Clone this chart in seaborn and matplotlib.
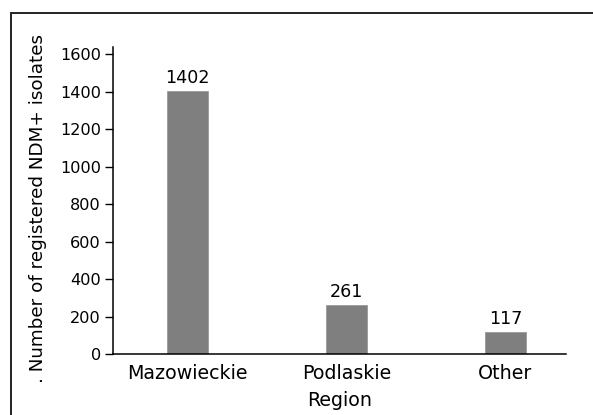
import matplotlib
matplotlib.use("Agg")
import matplotlib.pyplot as plt
import seaborn as sns
import pandas as pd
from matplotlib.lines import Line2D

regions = ["Mazowieckie", "Podlaskie", "Other"]
counts = [1402, 261, 117]
yticks = [0, 200, 400, 600, 800, 1000, 1200, 1400, 1600]

sns.set_style("ticks")
plt.rcParams['font.family'] = ['DejaVu Sans']
plt.rcParams['text.color'] = 'black'
plt.rcParams['axes.labelcolor'] = 'black'
plt.rcParams['xtick.color'] = 'black'
plt.rcParams['ytick.color'] = 'black'

df = pd.DataFrame({"Region": regions, "Count": counts})

fig = plt.figure(figsize=(5.93, 4.15), dpi=100)
ax = fig.add_axes([0.1906, 0.147, 0.9545 - 0.1906, 0.886 - 0.147])

sns.barplot(data=df, x="Region", y="Count", color="#7f7f7f", saturation=1,
            width=0.26, ax=ax, edgecolor="#9a9a9a", linewidth=0.6)

ax.set_xlim(-0.469, 2.381)
ax.set_ylim(0, 1636)
ax.set_yticks(yticks)
ax.set_yticklabels([str(t) for t in yticks], fontsize=11.6)
ax.tick_params(axis='x', length=0, labelsize=13.7, pad=7)
ax.tick_params(axis='y', length=5.8, width=1, color='black', pad=3)
for s in ["top", "right"]:
    ax.spines[s].set_visible(False)
for s in ["left", "bottom"]:
    ax.spines[s].set_color("black")
    ax.spines[s].set_linewidth(1.1)

for i, c in enumerate(counts):
    ax.annotate(str(c), (i, c), xytext=(0, 2.7), textcoords="offset points",
                ha="center", va="bottom", fontsize=12.6, color="black")

ax.set_xlabel("Region", fontsize=13.7, labelpad=6)
ax.set_ylabel(". Number of registered NDM+ isolates", fontsize=13.2)
ax.yaxis.set_label_coords(-0.146, 0.475)

# outer frame (top and left edges visible in the reference)
fig.add_artist(Line2D([11 / 593, 1.0], [1 - 13 / 415, 1 - 13 / 415],
                      transform=fig.transFigure, color="#222222", lw=1.4))
fig.add_artist(Line2D([11 / 593, 11 / 593], [0.0, 1 - 13 / 415],
                      transform=fig.transFigure, color="#222222", lw=1.4))

fig.savefig("out.png", dpi=100)
